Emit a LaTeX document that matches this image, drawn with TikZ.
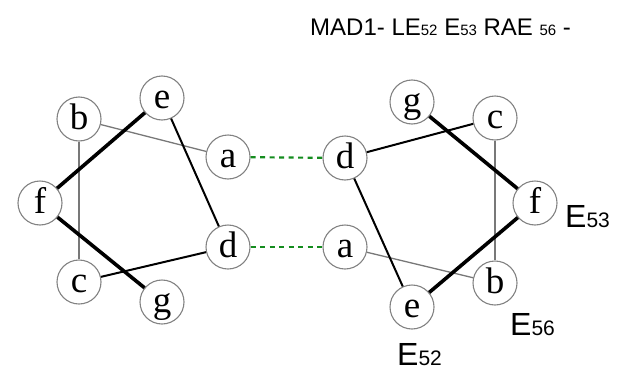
\documentclass[tikz,border=0pt]{standalone}
\usepackage{fontspec}
\setmainfont{Liberation Serif}
\newfontfamily\lblfont{Liberation Sans}
\definecolor{circgray}{RGB}{130,130,130}
\definecolor{thingray}{RGB}{120,120,120}
\definecolor{dashgreen}{RGB}{20,140,30}
\newcommand{\smdig}[1]{{\fontsize{15}{15}\selectfont #1}}
\newcommand{\lbdig}[1]{{\fontsize{21}{21}\selectfont #1}}
\tikzset{
  res/.style={circle, draw=circgray, line width=1.1pt, fill=white, minimum size=44pt, inner sep=0pt,
    font=\fontsize{37}{37}\selectfont, text height=21pt, text depth=0pt},
  thinedge/.style={draw=thingray, line width=1.3pt},
  medge/.style={draw=black, line width=2pt},
  thickedge/.style={draw=black, line width=3.6pt},
  hbond/.style={draw=dashgreen, line width=2.2pt, dash pattern=on 5pt off 4.5pt},
  lbl/.style={font=\lblfont\fontsize{32}{32}\selectfont, inner sep=0pt, anchor=base west},
  ttl/.style={font=\lblfont\fontsize{24}{24}\selectfont, inner sep=0pt, anchor=base west}
}
\begin{document}
\begin{tikzpicture}[x=1pt,y=-1pt]
\useasboundingbox (0,0) rectangle (628,372);
% left helix
\node[res] (Lb) at (79,119) {b};
\node[res] (Le) at (162,98) {e};
\node[res] (La) at (228,157) {a};
\node[res] (Lf) at (40,203) {f};
\node[res] (Ld) at (228,247) {d};
\node[res] (Lc) at (79,282) {c};
\node[res] (Lg) at (162,302) {g};
% right helix
\node[res] (Rg) at (412,102) {g};
\node[res] (Rc) at (495,118) {c};
\node[res] (Rd) at (345,158) {d};
\node[res] (Rf) at (535,203) {f};
\node[res] (Ra) at (345,247) {a};
\node[res] (Rb) at (495,283) {b};
\node[res] (Re) at (412,307) {e};
% edges
\draw[thinedge] (Lb) -- (La);
\draw[thinedge] (Lb) -- (Lc);
\draw[medge] (Le) -- (Ld);
\draw[medge] (Lc) -- (Ld);
\draw[thickedge] (Lf) -- (Le);
\draw[thickedge] (Lf) -- (Lg);
\draw[thinedge] (Rc) -- (Rb);
\draw[thinedge] (Ra) -- (Rb);
\draw[medge] (Rd) -- (Rc);
\draw[medge] (Rd) -- (Re);
\draw[thickedge] (Rg) -- (Rf);
\draw[thickedge] (Re) -- (Rf);
% hydrogen bonds
\draw[hbond] (La) -- (Rd);
\draw[hbond] (Ld) -- (Ra);
% labels
\node[lbl] (E53) at (565,227) {E\lbdig{53}};
\node[lbl] (E56) at (510,335) {E\lbdig{56}};
\node[lbl] (E52) at (397,365) {E\lbdig{52}};
\node[ttl] (title) at (310,35) {MAD1- LE\smdig{52} E\smdig{53} RAE \smdig{56} -};
\end{tikzpicture}
\end{document}
